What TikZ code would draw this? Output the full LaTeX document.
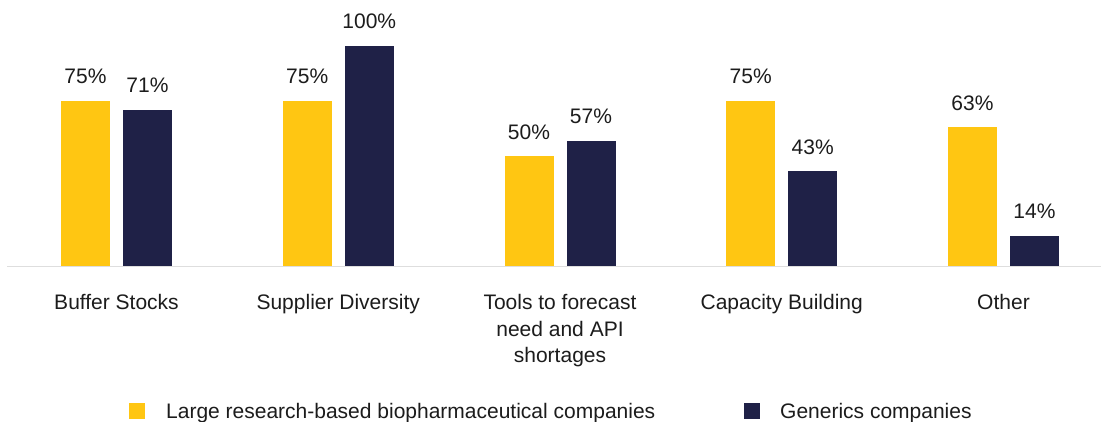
\documentclass[tikz,border=0pt]{standalone}
\usepackage{fontspec}
\setmainfont{Liberation Sans}
\definecolor{ylw}{RGB}{255,198,18}
\definecolor{nvy}{RGB}{31,33,71}
\definecolor{axisgrey}{RGB}{222,222,222}
\definecolor{txt}{RGB}{28,28,28}
\begin{document}
\begin{tikzpicture}[x=1pt,y=-1pt,
  bar/.style={inner sep=0pt, outer sep=0pt, minimum width=49pt, anchor=south},
  val/.style={font=\fontsize{21}{25}\selectfont, text=txt, anchor=base, inner sep=0pt},
  cat/.style={font=\fontsize{21}{26.5}\selectfont, text=txt, align=center, anchor=north, inner sep=0pt},
  legsq/.style={inner sep=0pt, minimum size=16pt},
  legtxt/.style={font=\fontsize{21}{25}\selectfont, text=txt, anchor=base west, inner sep=0pt}]
\useasboundingbox[fill=white] (0,0) rectangle (1101,421);
\foreach \i/\a/\b/\lab in {0/75/71/{Buffer Stocks}, 1/75/100/{Supplier Diversity}, 2/50/57/{Tools to forecast\\need and API\\shortages}, 3/75/43/{Capacity Building}, 4/63/14/{Other}} {
  \pgfmathsetmacro\xa{85.5+221.75*\i}
  \pgfmathsetmacro\xb{\xa+62}
  \pgfmathsetmacro\xc{\xa+31}
  \pgfmathsetmacro\ha{2.21*\a}
  \pgfmathsetmacro\hb{2.21*\b}
  \node[bar, fill=ylw, minimum height=\ha pt] (y\i) at (\xa,266.5) {};
  \node[bar, fill=nvy, minimum height=\hb pt] (n\i) at (\xb,266.5) {};
  \node[val] (vy\i) at ([yshift=17pt]y\i.north) {\a\%};
  \node[val] (vn\i) at ([yshift=17pt]n\i.north) {\b\%};
  \node[cat] (c\i) at (\xc,294.5) {\lab};
}
\coordinate (axL) at (7,266.5);
\coordinate (axR) at (1101,266.5);
\draw[axisgrey, line width=1.2pt] (axL) -- (axR);
\node[legsq, fill=ylw] (ly) at (137,411) {};
\node[legtxt] (ty) at (166,418) {Large research-based biopharmaceutical companies};
\node[legsq, fill=nvy] (ln) at (752,411) {};
\node[legtxt] (tn) at (780,418) {Generics companies};
\end{tikzpicture}
\end{document}
